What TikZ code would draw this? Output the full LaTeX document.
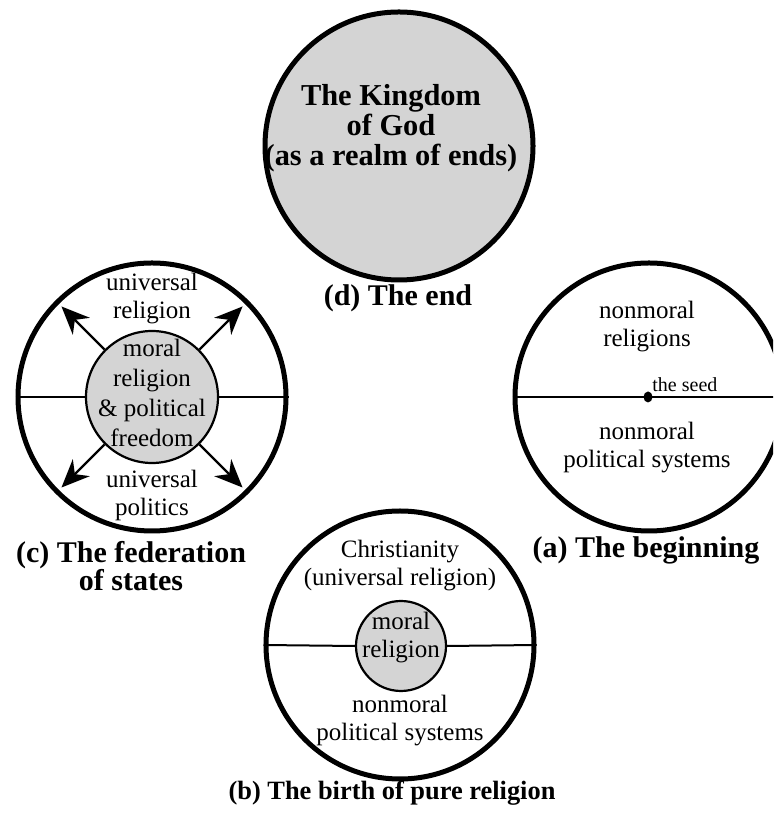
\documentclass[tikz,border=0pt]{standalone}
\usepackage{fontspec}
\setmainfont{Liberation Serif}
\usetikzlibrary{arrows.meta,shapes.geometric}
\colorlet{shadegray}{black!17}

\begin{document}
\begin{tikzpicture}[x=0.5pt,y=0.5pt,
    outer/.style={draw, circle, line width=2.5pt, minimum size=134pt, inner sep=0pt},
    core/.style={draw, circle, fill=shadegray, line width=1.1pt, inner sep=0pt},
    txt/.style={align=center, inner sep=0pt, font=\fontsize{12.5}{14}\selectfont},
    title/.style={align=center, inner sep=0pt, font=\fontsize{15}{14}\selectfont\bfseries},
    arr/.style={line width=1.1pt, -{Stealth[length=14pt,width=12pt]}}]
    \path[use as bounding box, clip] (0,0) rectangle (773,818);
    % (d) the end
    \node[outer, fill=shadegray] (cd) at (399,672) {};
    \node[title, font=\fontsize{15.2}{15}\selectfont\bfseries] (kingdom) at (391,690) {The Kingdom\\of God\\(as a realm of ends)};
    \node[title] (td) at (398,520) {(d) The end};
    % (c) the federation of states
    \node[outer] (cc) at (152,421) {};
    \node[core, minimum size=66pt] (ccin) at (152,421) {};
    \draw[line width=1pt] (cc.west) -- (ccin.west);
    \draw[line width=1pt] (ccin.east) -- (cc.east);
    \foreach \a in {45,135,225,315} {
        \path (cc) ++(\a:128) coordinate (tip\a);
        \draw[arr] (ccin.\a) -- (tip\a);
    }
    \node[txt] (urel) at (152,519) {universal\\religion};
    \node[txt, font=\fontsize{12.5}{15}\selectfont] (moralc) at (152,425) {moral\\religion\\\& political\\freedom};
    \node[txt] (upol) at (152,323) {universal\\politics};
    \node[title] (tc) at (131,252) {(c) The federation\\of states};
    % (a) the beginning
    \node[outer] (ca) at (649,421) {};
    \draw[line width=1pt] (ca.west) -- (ca.east);
    \node[ellipse, fill=black, inner sep=0pt, minimum width=4.5pt, minimum height=5.5pt] (seed) at (648,421) {};
    \node[anchor=base west, inner sep=0pt, font=\fontsize{10}{12}\selectfont] (seedlbl) at (652,426) {the seed};
    \node[txt] (nrel) at (647,491) {nonmoral\\religions};
    \node[txt] (npola) at (647,370) {nonmoral\\political systems};
    \node[title] (ta) at (646,268) {(a) The beginning};
    % (b) the birth of pure religion
    \node[outer] (cb) at (400,173) {};
    \node[core, minimum size=45pt] (cbin) at (401,172) {};
    \draw[line width=1pt] (cb.west) -- (cbin.west);
    \draw[line width=1pt] (cbin.east) -- (cb.east);
    \node[txt] (christ) at (400,252) {Christianity\\(universal religion)};
    \node[txt] (moralb) at (401,180) {moral\\religion};
    \node[txt] (npolb) at (400,97) {nonmoral\\political systems};
    \node[title, font=\fontsize{13.2}{14}\selectfont\bfseries] (tb) at (392,25) {(b) The birth of pure religion};
\end{tikzpicture}
\end{document}
